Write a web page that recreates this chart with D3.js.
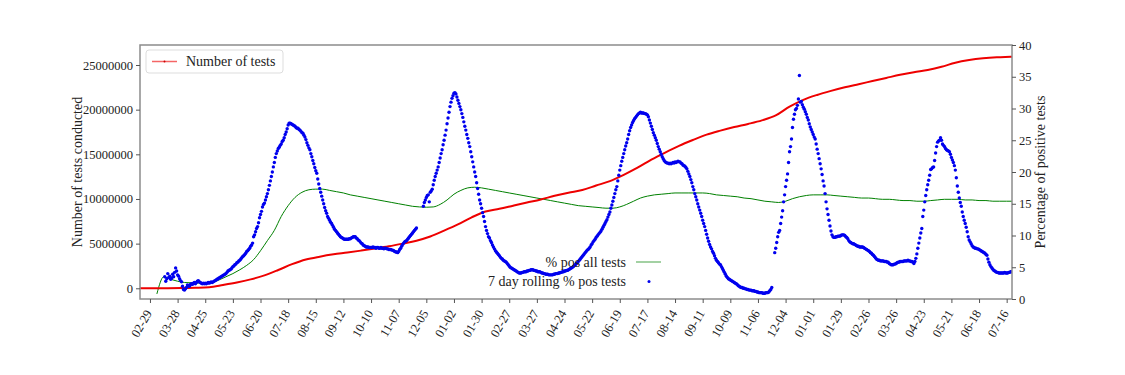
<!DOCTYPE html>
<html>
<head>
<meta charset="utf-8">
<script src="https://d3js.org/d3.v7.min.js"></script>
<style>
  body { margin: 0; background: #fff; }
  text { font-family: "Liberation Serif", "DejaVu Serif", serif; fill: #222; }
</style>
</head>
<body>
<script>
const w = 1125
const h = 375

// cumulative number of tests (millions), one value every 14 days from 2020-02-19
const testsStart = "2020-02-19"
const testsStep = 14
const testsMillions = [
  0, 0.0, 0.01, 0.03, 0.06, 0.12, 0.37, 0.65, 1.0, 1.45,
  2.05, 2.7, 3.22, 3.54, 3.8, 4.0, 4.22, 4.45, 4.7, 5.0,
  5.33, 5.8, 6.45, 7.15, 7.95, 8.6, 8.9, 9.25, 9.6, 9.95,
  10.35, 10.7, 11.0, 11.5, 12.0, 12.7, 13.5, 14.4, 15.2, 15.95,
  16.6, 17.2, 17.65, 18.05, 18.4, 18.8, 19.35, 20.33, 21.1, 21.65,
  22.1, 22.5, 22.85, 23.2, 23.55, 23.9, 24.2, 24.45, 24.8, 25.25,
  25.55, 25.75, 25.87, 25.93, 26.0
]

// % positive of all tests so far, one value every 7 days from 2020-03-07
const pctAllStart = "2020-03-07"
const pctAllStep = 7
const pctAll = [
  0.8, 3.5, 3.1, 2.8, 2.6, 2.55, 2.5, 2.5, 2.6, 3.0,
  3.5, 4.0, 4.6, 5.3, 6.2, 7.6, 9.2, 10.8, 13.0, 14.7,
  16.0, 16.8, 17.2, 17.3, 17.3, 17.1, 16.9, 16.7, 16.4, 16.2,
  16.0, 15.8, 15.6, 15.4, 15.2, 15.0, 14.8, 14.6, 14.5, 14.45,
  14.5, 14.9, 15.6, 16.5, 17.1, 17.5, 17.6, 17.5, 17.3, 17.1,
  16.9, 16.7, 16.5, 16.3, 16.1, 15.9, 15.7, 15.5, 15.3, 15.1,
  14.9, 14.7, 14.6, 14.5, 14.4, 14.3, 14.3, 14.5, 14.9, 15.4,
  15.9, 16.2, 16.4, 16.5, 16.6, 16.7, 16.7, 16.7, 16.7, 16.7,
  16.6, 16.4, 16.3, 16.2, 16.1, 15.9, 15.8, 15.6, 15.4, 15.3,
  15.2, 15.4, 15.8, 16.1, 16.3, 16.4, 16.4, 16.4, 16.3, 16.2,
  16.1, 16.0, 15.9, 15.9, 15.8, 15.7, 15.7, 15.6, 15.5, 15.5,
  15.4, 15.4, 15.5, 15.6, 15.7, 15.7, 15.7, 15.6, 15.6, 15.5,
  15.5, 15.4, 15.4, 15.4, 15.4
]

// 7 day rolling % positive, daily from 2020-03-15 (null = no data)
const rollingStart = "2020-03-15"
const rolling7 = [
  3.5, 2.8, 3.2, 4.0, 3.4, 3.6, 3.1, 3.3, 3.9, 3.5, 4.2, 4.9, 4.4, 3.8, 3.6, 3.2, 2.9, 2.7, 2.0, 1.5, 1.4, 1.6, 1.8, 2.2,
  2.1, 2.0, 2.3, 2.4, 2.3, 2.5, 2.6, 2.4, 2.6, 2.8, 2.9, 2.7, 2.6, 2.5, 2.4, 2.5, 2.4, 2.5, 2.4, 2.5, 2.6, 2.5, 2.6, 2.7, 2.6, 2.7, 2.8, 2.9, 3.0, 3.1, 3.2, 3.3,
  3.4, 3.5, 3.6, 3.7, 3.8, 3.9, 4.0, 4.2, 4.4, 4.5, 4.6, 4.7, 4.9, 5.1, 5.2, 5.4, 5.5, 5.7, 5.8, 6.0, 6.1, 6.3, 6.5, 6.7, 6.8, 7.0, 7.2, 7.5, 7.6, 7.8, 8.0, 8.3, 8.5, 8.8,
  9.8, 10.1, 10.6, 11.1, 11.4, 12.0, 12.8, 13.3, 13.8, 14.5, 14.9, 15.1, 15.6, 16.1, 16.6, 17.2, 17.9, 18.6, 19.3, 20.0, 20.8, 21.5, 22.3, 22.9, 23.3, 23.7, 23.9, 24.2, 24.4, 24.8, 25.0, 25.4, 25.9, 26.3, 26.8, 27.4, 27.7,
  27.7, 27.6, 27.5, 27.4, 27.3, 27.2, 27.0, 26.9, 26.9, 26.7, 26.6, 26.4, 26.2, 26.1, 25.8, 25.5, 25.1, 24.6, 24.2, 23.8, 23.5, 22.9, 22.4, 21.8, 21.3, 20.7, 20.2, 19.8, 18.9, 18.1, 17.4, 16.8, 16.2, 15.6, 15.0, 14.4, 13.9, 13.5, 13.0, 12.7, 12.4, 12.1, 11.9, 11.6, 11.3, 11.0, 10.8, 10.6, 10.4,
  10.2, 10.0, 9.8, 9.7, 9.6, 9.5, 9.4, 9.4, 9.4, 9.4,
  9.4, 9.5, 9.5, 9.6, 9.7, 9.8, 9.8, 9.8, 9.6, 9.5,
  9.3, 9.2, 9.0, 8.8, 8.7, 8.5, 8.4, 8.3, 8.2, 8.2,
  8.2, 8.1, 8.1, 8.1, 8.1, 8.2, 8.1, 8.1, 8.0, 8.1,
  8.1, 8.0, 8.0, 8.1, 8.0, 8.0, 7.9, 8.0, 8.0, 7.9,
  7.9, 7.8, 7.8, 7.8, 7.7, 7.7, 7.6, 7.5, 7.4, 7.4,
  7.3, 7.5, 7.8, 8.0, 8.3, 8.6, 8.8, 9.0, 9.1, 9.2,
  9.4, 9.6, 9.8, 10.0, 10.2, 10.4, 10.6, 10.8, 11.0, 11.2,
  null, null, null, null, null, null,
  14.6, 15.2, 15.6, 16.0, 16.3, 16.4, 15.3, 16.8, 17.0, 17.3,
  18.0, 18.7, 19.3, 19.8, 20.3, 20.8, 21.5, 22.2, 22.9, 23.5,
  24.3, 25.0, 25.8, 26.6, 27.6, 28.5, 29.4, 30.3, 31.0, 31.6,
  32.0, 32.4, 32.5, 32.3, 31.8, 31.3, 30.8, 30.3, 29.8, 29.2,
  28.6, 27.9, 27.2, 26.6, 25.9, 25.3, 24.6, 24.0, 23.2, 22.4,
  21.6, 20.8, 20.0, 19.3, 18.3, 17.4, 16.5, 15.6, 15.0, 14.3,
  13.6, 13.0, 12.2, 11.4, 10.8, 10.3, 9.8,
  9.6, 9.2, 8.9, 8.5, 8.2, 7.9, 7.6, 7.4, 7.2, 7.0,
  6.8, 6.6, 6.4, 6.3, 6.1, 6.0, 5.9, 5.8, 5.6, 5.4,
  5.2, 5.0, 4.9, 4.8, 4.7, 4.6, 4.5, 4.4, 4.3, 4.2,
  4.1, 4.1,
  4.1, 4.2, 4.2, 4.3, 4.3, 4.3, 4.4, 4.4, 4.5, 4.5,
  4.6, 4.6, 4.6, 4.5, 4.5, 4.4, 4.4, 4.3, 4.3, 4.3,
  4.2, 4.1, 4.1, 4.0, 4.0, 3.9, 3.9, 3.9, 3.8, 3.8,
  3.8, 3.8, 3.8, 3.9, 3.9, 4.0, 4.0, 4.0, 4.1, 4.1,
  4.2, 4.2, 4.3, 4.3, 4.4, 4.4, 4.5, 4.5, 4.6, 4.7,
  4.8, 4.9, 5.0, 5.1, 5.3, 5.4, 5.6,
  5.7, 5.9, 6.1, 6.3, 6.5, 6.7, 6.9, 7.1, 7.3, 7.5,
  7.7, 7.8, 8.0, 8.2, 8.5, 8.7, 9.0, 9.2, 9.4, 9.7,
  9.9, 10.1, 10.3, 10.5, 10.7, 11.0, 11.3, 11.6, 11.9, 12.2,
  12.5, 12.9, 13.3, 13.7, 14.3, 14.8, 15.4, 16.0, 16.6, 17.2,
  17.7, 18.6, 19.5, 20.3, 21.0, 21.7, 22.3, 22.9, 23.5, 24.1,
  24.6, 25.2, 25.9, 26.5, 27.0, 27.4, 27.8, 28.1, 28.4, 28.6,
  28.8, 29.0, 29.2, 29.3,
  29.4, 29.3, 29.3, 29.3, 29.2, 29.2, 29.1, 29.0, 28.7, 28.2,
  27.7, 27.2, 26.7, 26.2, 25.8, 25.4, 25.0, 24.5, 24.0, 23.6,
  23.2, 22.8, 22.4, 22.1, 21.8, 21.6, 21.5, 21.4, 21.4, 21.3,
  21.4, 21.3, 21.4, 21.5, 21.4, 21.6, 21.5, 21.6, 21.7, 21.6,
  21.6, 21.4, 21.3, 21.1, 21.0, 20.9, 20.7, 20.5, 20.1, 19.7,
  19.3, 18.8, 18.3, 17.7, 17.2, 16.6, 16.1, 15.6, 15.0, 14.5,
  14.0, 13.5, 13.0, 12.4,
  11.9, 11.4, 10.8, 10.2, 9.6, 9.1, 8.6, 8.2, 7.9, 7.5,
  7.2, 6.8, 6.4, 6.1, 5.9, 5.7, 5.5, 5.4, 5.1, 4.8,
  4.5, 4.2, 3.9, 3.6, 3.4, 3.2, 3.1, 3.0, 2.9, 2.8,
  2.7, 2.6, 2.5, 2.4, 2.3, 2.1, 2.0, 1.9, 1.8, 1.8,
  1.7, 1.7, 1.6, 1.6, 1.5, 1.5, 1.4, 1.4, 1.4, 1.3,
  1.3, 1.3, 1.2, 1.2, 1.1, 1.1, 1.0, 1.0, 1.0, 1.0,
  0.9, 0.9, 0.9, 1.0, 1.0, 1.0, 1.1, 1.3, 1.5, 1.8,
  null, null,
  7.3, 8.0, 8.9, 9.8, 10.5, 10.8, 11.9, 12.9, 13.9, 15.3,
  16.4, 17.7, 18.7, 19.7, 21.5, 23.2, 24.0, 25.2, 27.0, 28.3,
  29.1, 29.8, 30.0, 30.5, 31.5, 35.2, 31.0, 31.1, 30.6, 30.2,
  29.9, 29.5, 29.1, 28.6, 28.2, 27.6, 27.1, 26.7, 26.3, 25.9,
  25.5, 25.2, 24.4, 23.6, 22.9, 22.1, 21.3, 20.5, 19.6, 18.6,
  17.8, 16.6, 15.3, 14.2, 13.3, 12.4, 11.5, 10.7, 10.1, 9.8,
  9.7, 9.7, 9.8, 9.8, 9.9, 9.9, 9.9, 10.0, 10.1, 10.1,
  10.1, 10.0, 9.8, 9.7, 9.5, 9.2, 9.0, 8.9, 8.8, 8.7,
  8.7, 8.6, 8.5, 8.4, 8.3, 8.3, 8.2, 8.2, 8.2, 8.2,
  8.1, 8.0, 7.9, 7.8, 7.7, 7.6, 7.5, 7.3, 7.2, 7.0,
  6.9, 6.7, 6.5, 6.3, 6.2, 6.1, 6.1, 6.0, 6.0, 6.0,
  6.0, 5.9, 5.9, 5.9, 5.8, 5.8, 5.6, 5.5, 5.4, 5.4,
  5.4, 5.5, 5.5, 5.6, 5.7, 5.8, 5.8, 5.9, 5.9, 5.9,
  5.9, 6.0, 6.0, 6.0, 6.0, 6.1, 6.0, 6.0, 5.9, 5.9,
  5.8, 5.6, 5.9, 6.4, 7.1, 8.0,
  8.8, 9.6, 10.4, 11.1, 13.0, 14.0, 15.3, 16.3, 17.2, 18.0,
  18.7, 19.5, 20.4, 20.5, 20.7, 20.8, 21.8, 23.0, 24.0, 24.7,
  24.9, 25.0, 25.4, 25.0, 24.4,
  24.2, 24.0, 23.7, 23.5, 23.4, 23.3, 23.2, 22.8, 22.3, 21.9,
  21.5, 21.0, 20.3, 19.1, 17.8, 16.8, 15.9, 15.2, 14.6, 13.7,
  13.0, 12.4, 11.9, 11.3, 10.6, 9.8, 9.3, 9.0, 8.7, 8.4,
  8.2, 8.1, 8.0, 8.0, 7.9, 7.9, 7.8, 7.7, 7.6, 7.5,
  7.4, 7.3, 7.2, 7.0, 6.9, 6.3, 5.8, 5.4, 5.1, 4.9,
  4.7, 4.5, 4.4, 4.3, 4.2, 4.2, 4.1, 4.1, 4.1, 4.1,
  4.1, 4.1, 4.2, 4.1, 4.1, 4.1, 4.2, 4.2, 4.3, 4.3
]

const leftTicks = [0, 5000000, 10000000, 15000000, 20000000, 25000000]
const rightTicks = [0, 5, 10, 15, 20, 25, 30, 35, 40]
const tickFirst = "2020-02-29"
const tickLast = "2022-07-17"
const tickStep = 28

const plot = {left: 140, right: 1012, top: 45, bottom: 299}
const dayMs = 864e5
const parse = d3.utcParse("%Y-%m-%d")
const base = parse("2020-02-29")
const dayAt = d => new Date(base.getTime() + d * dayMs)

function series(start, step, vals) {
  const s = parse(start)
  return vals.map((v, i) => ({date: new Date(s.getTime() + i * step * dayMs), v: v}))
}

const testsData = series(testsStart, testsStep, testsMillions).map(d => ({date: d.date, v: d.v * 1e6}))
const pctAllData = series(pctAllStart, pctAllStep, pctAll)
const rollingData = series(rollingStart, 1, rolling7).filter(d => d.v != null)

const x = d3.scaleUtc().domain([dayAt(-10.1), dayAt(873.4)]).range([plot.left, plot.right])
const yL = d3.scaleLinear().domain([-1.2e6, 27.24e6]).range([plot.bottom, plot.top])
const yR = d3.scaleLinear().domain([0, 40]).range([plot.bottom, plot.top])

const svg = d3.select("body").append("svg")
  .attr("width", w)
  .attr("height", h)

svg.append("defs").append("clipPath").attr("id", "clip")
  .append("rect")
  .attr("x", plot.left).attr("y", plot.top)
  .attr("width", plot.right - plot.left).attr("height", plot.bottom - plot.top)

const g = svg.append("g").attr("clip-path", "url(#clip)")

// green: % pos all tests
g.append("path")
  .datum(pctAllData)
  .attr("fill", "none")
  .attr("stroke", "#008000")
  .attr("stroke-width", 1)
  .attr("d", d3.line().curve(d3.curveMonotoneX).x(d => x(d.date)).y(d => yR(d.v)))

// red: cumulative tests
g.append("path")
  .datum(testsData)
  .attr("fill", "none")
  .attr("stroke", "#ee0000")
  .attr("stroke-width", 2)
  .attr("d", d3.line().curve(d3.curveMonotoneX).x(d => x(d.date)).y(d => yL(d.v)))

// blue dots: 7 day rolling
g.selectAll(".dot")
  .data(rollingData)
  .enter()
  .append("circle")
  .attr("class", "dot")
  .attr("cx", d => x(d.date))
  .attr("cy", d => yR(d.v))
  .attr("r", 1.7)
  .attr("fill", "#0000ee")

// frame
svg.append("rect")
  .attr("x", plot.left).attr("y", plot.top)
  .attr("width", plot.right - plot.left).attr("height", plot.bottom - plot.top)
  .attr("fill", "none")
  .attr("stroke", "#8c8c8c")
  .attr("stroke-width", 1.5)

// axes
const xAxis = d3.axisBottom(x)
  .tickValues(d3.utcDay.range(parse(tickFirst), parse(tickLast)).filter((d, i) => i % tickStep == 0))
  .tickFormat(d3.utcFormat("%m-%d"))
  .tickSize(4)
const gx = svg.append("g").attr("transform", `translate(0,${plot.bottom})`).call(xAxis)
gx.selectAll("text")
  .attr("font-size", 12.5)
  .attr("text-anchor", "end")
  .attr("dy", null)
  .attr("y", 0)
  .attr("transform", "translate(2,14) rotate(-60)")

const gl = svg.append("g").attr("transform", `translate(${plot.left},0)`)
  .call(d3.axisLeft(yL).tickValues(leftTicks).tickFormat(d3.format("d")).tickSize(4))
gl.selectAll("text").attr("font-size", 12.5)

const gr = svg.append("g").attr("transform", `translate(${plot.right},0)`)
  .call(d3.axisRight(yR).tickValues(rightTicks).tickSize(4))
gr.selectAll("text").attr("font-size", 12.5)

svg.selectAll(".domain").remove()
svg.selectAll(".tick line").attr("stroke", "#555")

// axis titles
svg.append("text")
  .attr("transform", `translate(82,${(plot.top + plot.bottom) / 2}) rotate(-90)`)
  .attr("text-anchor", "middle")
  .attr("font-size", 14)
  .text("Number of tests conducted")

svg.append("text")
  .attr("transform", `translate(1045,${(plot.top + plot.bottom) / 2}) rotate(-90)`)
  .attr("text-anchor", "middle")
  .attr("font-size", 14)
  .text("Percentage of positive tests")

// legend 1
const lg1 = svg.append("g")
lg1.append("rect")
  .attr("x", 146).attr("y", 50).attr("width", 137).attr("height", 23).attr("rx", 3)
  .attr("fill", "#fff").attr("fill-opacity", 0.8)
  .attr("stroke", "#ddd")
lg1.append("line")
  .attr("x1", 152).attr("x2", 177).attr("y1", 61.5).attr("y2", 61.5)
  .attr("stroke", "#ee0000").attr("stroke-opacity", 0.6).attr("stroke-width", 1.5)
lg1.append("circle").attr("cx", 164.5).attr("cy", 61.5).attr("r", 1).attr("fill", "#c00")
lg1.append("text").attr("x", 186).attr("y", 66).attr("font-size", 14).text("Number of tests")

// legend 2
const lg2 = svg.append("g")
lg2.append("text").attr("x", 626).attr("y", 267).attr("text-anchor", "end").attr("font-size", 14).text("% pos all tests")
lg2.append("line")
  .attr("x1", 636).attr("x2", 661).attr("y1", 262).attr("y2", 262)
  .attr("stroke", "#008000").attr("stroke-opacity", 0.6).attr("stroke-width", 1.2)
lg2.append("text").attr("x", 626).attr("y", 286).attr("text-anchor", "end").attr("font-size", 14).text("7 day rolling % pos tests")
lg2.append("circle").attr("cx", 649).attr("cy", 281.5).attr("r", 1.5).attr("fill", "#0000ee")
</script>
</body>
</html>
